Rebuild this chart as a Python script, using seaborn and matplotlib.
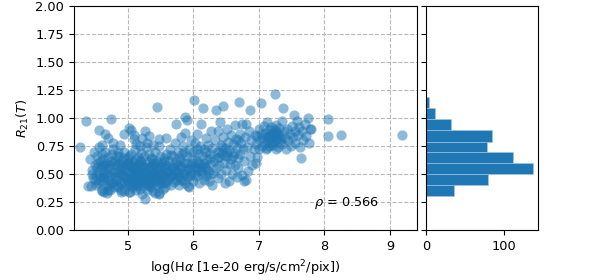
import matplotlib
matplotlib.use("Agg")
import matplotlib.pyplot as plt
import seaborn as sns
import numpy as np
import pandas as pd

# ---- scatter data (log Halpha, R21), by region ----
core_west = [(4.42,0.63),(4.45,0.54),(4.47,0.46),(4.44,0.39),(4.50,0.58),(4.52,0.49),(4.48,0.70),
             (4.55,0.42),(4.58,0.62),(4.53,0.66),(4.60,0.36),(4.62,0.52),(4.57,0.47),(4.65,0.58),
             (4.63,0.44),(4.68,0.40),(4.70,0.65),(4.66,0.70),(4.72,0.55),(4.75,0.48),(4.73,0.36),
             (4.78,0.60),(4.77,0.43),(4.80,0.52),(4.56,0.74),(4.61,0.68),(4.69,0.50),(4.74,0.62),
             (4.79,0.38),(4.64,0.34),(4.51,0.40),(4.59,0.56),(4.67,0.60),(4.71,0.45),(4.76,0.68),
             (4.46,0.50),(4.54,0.60),(4.62,0.47),(4.70,0.36),(4.78,0.72)]
core_mid = [(4.82,0.45),(4.84,0.58),(4.85,0.38),(4.86,0.66),(4.88,0.50),(4.90,0.42),(4.91,0.62),
            (4.92,0.55),(4.94,0.35),(4.95,0.70),(4.96,0.47),(4.97,0.59),(4.99,0.40),(5.00,0.52),
            (5.01,0.64),(5.02,0.44),(5.03,0.34),(5.04,0.57),(5.05,0.68),(5.06,0.49),(5.07,0.38),
            (5.08,0.61),(5.09,0.53),(5.10,0.43),(5.11,0.72),(5.12,0.36),(5.13,0.56),(5.14,0.47),
            (5.15,0.65),(5.16,0.40),(5.17,0.59),(5.18,0.51),(5.19,0.44),(5.20,0.69),(4.83,0.52),
            (4.87,0.60),(4.89,0.36),(4.93,0.48),(4.98,0.56),(5.02,0.60),(5.05,0.46),(5.09,0.41),
            (5.12,0.63),(5.16,0.53),(5.19,0.37),(4.85,0.70),(4.95,0.64),(5.07,0.55),(5.14,0.39),
            (5.18,0.62)]
core_east = [(5.21,0.48),(5.22,0.32),(5.23,0.58),(5.24,0.40),(5.25,0.66),(5.26,0.28),(5.26,0.52),
             (5.27,0.44),(5.28,0.74),(5.29,0.36),(5.30,0.61),(5.31,0.50),(5.32,0.42),(5.33,0.68),
             (5.34,0.55),(5.35,0.38),(5.36,0.47),(5.37,0.63),(5.38,0.53),(5.39,0.35),(5.40,0.58),
             (5.41,0.45),(5.42,0.70),(5.43,0.50),(5.44,0.40),(5.45,0.62),(5.46,0.54),(5.47,0.33),
             (5.48,0.46),(5.49,0.66),(5.50,0.57),(5.51,0.41),(5.52,0.51),(5.53,0.60),(5.54,0.37),
             (5.55,0.64),(5.56,0.48),(5.57,0.55),(5.58,0.43),(5.59,0.68),(5.60,0.52),(5.24,0.56),
             (5.30,0.46),(5.36,0.57),(5.42,0.60),(5.47,0.42),(5.53,0.47),(5.57,0.38),(5.33,0.39),
             (5.39,0.48)]
core_fill = [(4.50,0.45),(4.55,0.52),(4.58,0.44),(4.60,0.58),(4.63,0.63),(4.66,0.50),(4.68,0.55),
             (4.71,0.40),(4.73,0.58),(4.75,0.42),(4.77,0.52),(4.80,0.47),(4.81,0.62),(4.83,0.40),
             (4.86,0.54),(4.88,0.44),(4.90,0.58),(4.92,0.50),(4.94,0.43),(4.96,0.55),(4.98,0.47),
             (5.00,0.60),(5.00,0.42),(5.03,0.50),(5.04,0.40),(5.06,0.58),(5.08,0.46),(5.10,0.55),
             (5.11,0.48),(5.13,0.42),(5.15,0.52),(5.17,0.46),(5.19,0.56),(5.21,0.42),(5.23,0.50),
             (5.25,0.45),(5.27,0.56),(5.29,0.48),(5.31,0.40),(5.32,0.55),(5.34,0.47),(5.36,0.42),
             (5.38,0.60),(5.40,0.50),(5.43,0.44),(5.45,0.55),(5.47,0.50),(5.50,0.45),(5.52,0.56),
             (5.55,0.42),(5.58,0.58),(5.60,0.46),(5.62,0.52),(5.65,0.48),(5.68,0.56),(5.70,0.50),
             (5.73,0.45),(5.76,0.58),(5.78,0.48),(5.82,0.55),(5.84,0.45),(5.88,0.50),(5.90,0.60),
             (5.95,0.48),(5.97,0.55),(6.02,0.50),(6.05,0.55),(6.08,0.60),(6.12,0.53),(6.16,0.60),
             (6.20,0.55),(6.25,0.50),(4.53,0.56),(4.64,0.47),(4.84,0.66),(5.02,0.66),(5.21,0.62),
             (5.35,0.64),(5.56,0.62)]
core_edges = [(4.27,0.74),(4.36,0.97),(4.74,0.99),(4.56,0.89),(4.66,0.86),(4.70,0.82),(4.78,0.78),
              (4.94,0.86),(5.02,0.91),(5.05,0.89),(5.09,0.85),(5.10,0.81),(5.13,0.77),(5.26,0.88),
              (5.22,0.82),(5.32,0.84),(5.30,0.78),(5.45,1.10),(5.47,0.81),(5.59,0.82),(5.48,0.75),
              (5.38,0.76),(4.60,0.76),(4.88,0.76),(5.18,0.75),(4.40,0.39),(4.60,0.35),(4.68,0.33),
              (4.90,0.34),(5.02,0.34),(5.41,0.33),(5.48,0.32)]
middle = [(5.62,0.45),(5.63,0.62),(5.64,0.54),(5.65,0.72),(5.66,0.40),(5.67,0.58),(5.68,0.49),
          (5.69,0.66),(5.70,0.43),(5.71,0.55),(5.72,0.78),(5.73,0.95),(5.74,0.61),(5.75,0.47),
          (5.76,0.70),(5.77,0.52),(5.78,0.40),(5.79,0.64),(5.80,0.57),(5.81,0.83),(5.82,0.45),
          (5.83,0.68),(5.84,0.51),(5.85,0.75),(5.86,0.60),(5.87,0.42),(5.88,1.01),(5.88,0.87),
          (5.89,0.54),(5.90,0.98),(5.90,0.66),(5.91,0.47),(5.92,0.39),(5.93,0.72),(5.94,0.38),
          (5.95,0.58),(5.96,0.80),(5.97,0.50),(5.98,0.64),(5.99,0.44),(6.00,0.70),(6.01,1.16),
          (6.02,0.56),(6.03,0.78),(6.04,0.48),(6.05,0.62),(6.06,0.86),(6.07,0.53),(6.08,0.68),
          (6.09,0.42),(6.10,0.75),(6.11,0.59),(6.12,0.95),(6.13,0.50),(6.14,0.66),(6.15,1.09),
          (6.16,0.45),(6.17,0.72),(6.18,0.57),(6.19,0.82),(6.20,0.48),(6.21,0.63),(6.22,0.76),
          (6.23,0.53),(6.24,0.44),(6.25,0.68),(6.26,0.59),(6.27,0.88),(6.28,0.40),(6.29,0.73),
          (6.30,0.51),(5.66,0.67),(5.74,0.52),(5.80,0.62),(5.86,0.70),(5.92,0.55),(6.00,0.60),
          (6.06,0.72),(6.14,0.56),(6.20,0.70),(6.26,0.64)]
upper_mid = [(6.31,0.62),(6.33,0.80),(6.34,1.07),(6.35,0.55),(6.36,0.70),(6.37,0.46),(6.38,0.88),
             (6.39,0.65),(6.40,0.58),(6.41,0.96),(6.42,0.76),(6.43,0.50),(6.44,0.68),(6.45,0.83),
             (6.46,1.11),(6.47,0.60),(6.48,0.42),(6.49,0.73),(6.50,0.54),(6.51,0.90),(6.52,0.66),
             (6.53,0.79),(6.54,0.44),(6.55,0.71),(6.56,0.59),(6.57,0.85),(6.58,0.63),(6.59,0.50),
             (6.60,0.77),(6.62,0.69),(6.63,0.94),(6.64,0.58),(6.65,0.81),(6.66,0.47),(6.67,0.73),
             (6.68,0.64),(6.69,0.55),(6.70,1.14),(6.71,0.86),(6.72,0.68),(6.73,0.78),(6.74,0.95),
             (6.74,0.49),(6.76,0.72),(6.77,0.44),(6.78,0.62),(6.79,0.83),(6.80,0.95),(6.81,0.45),
             (6.82,0.74),(6.84,0.53),(6.85,0.88),(6.86,1.07),(6.87,0.66),(6.88,0.80),(6.90,0.58),
             (6.92,0.72),(6.94,0.85),(6.36,0.64),(6.44,0.74),(6.52,0.70),(6.60,0.66),(6.68,0.80),
             (6.40,0.70),(6.48,0.66),(6.97,0.65),(6.95,0.60)]
bright = [(6.96,0.77),(6.98,0.84),(7.00,0.72),(7.01,0.90),(7.02,0.80),(7.04,1.13),(7.04,0.86),
          (7.05,0.75),(7.07,0.82),(7.08,0.93),(7.09,0.78),(7.10,0.87),(7.11,0.72),(7.12,0.84),
          (7.13,0.96),(7.14,0.80),(7.15,0.89),(7.16,0.75),(7.17,0.85),(7.18,0.92),(7.19,0.79),
          (7.20,0.87),(7.21,0.83),(7.22,0.76),(7.23,0.90),(7.24,0.85),(7.25,1.21),(7.25,0.80),
          (7.26,0.88),(7.27,0.94),(7.28,0.82),(7.29,0.74),(7.30,0.86),(7.31,0.91),(7.32,0.79),
          (7.33,0.84),(7.35,0.97),(7.36,0.77),(7.37,1.09),(7.38,0.88),(7.40,0.82),(7.41,0.72),
          (7.43,0.90),(7.45,0.80),(7.47,0.86),(7.49,0.75),(7.50,0.93),(7.52,0.83),(7.54,1.03),
          (7.55,0.88),(7.56,0.78),(7.58,0.97),(7.60,0.85),(7.62,0.92),(7.63,0.74),(7.65,0.64),
          (7.66,0.88),(7.68,0.80),(7.70,0.95),(7.72,0.84),(7.75,1.00),(7.76,0.78),(7.78,0.90),
          (7.80,0.90),(8.06,0.99),(8.05,0.84),(8.25,0.85),(9.19,0.85),(7.20,0.78),(7.28,0.87),
          (7.15,0.83),(7.34,0.81),(7.13,0.73),(7.27,0.72)]

# ---- histogram of R21 (bin edges and counts) ----
hist_edges = [0.30, 0.40, 0.50, 0.60, 0.695, 0.79, 0.89, 0.99, 1.09, 1.19]
hist_counts = [36, 80, 137, 112, 78, 85, 32, 11, 4]

x_ticks = [5, 6, 7, 8, 9]
y_ticks = [0.0, 0.25, 0.5, 0.75, 1.0, 1.25, 1.5, 1.75, 2.0]
rho_text = r"$\rho$ = 0.566"

pts = core_west + core_mid + core_east + core_fill + core_edges + middle + upper_mid + bright
df = pd.DataFrame(pts, columns=["logHa", "R21"])

plt.rcParams["font.family"] = ["DejaVu Sans"]
plt.rcParams["font.size"] = 9.3
C0 = "#1f77b4"

fig = plt.figure(figsize=(5.98, 2.80), dpi=100)
ax = fig.add_axes([74/598, 50/280, (416.7-74)/598, 224/280])
axh = fig.add_axes([426/598, 50/280, (538-426)/598, 224/280], sharey=ax)

sns.scatterplot(data=df, x="logHa", y="R21", ax=ax, color=C0, alpha=0.5,
                s=54, linewidth=0, legend=False)
ax.set_xlim(4.18, 9.41)
ax.set_ylim(0, 2.0)
ax.set_xticks(x_ticks)
ax.set_yticks(y_ticks)
ax.set_yticklabels([f"{v:.2f}" for v in y_ticks])
ax.grid(True, linestyle="--", color="#b8b8b8", linewidth=0.8)
ax.set_axisbelow(True)
ax.set_xlabel(r"log(H$\alpha$ [1e-20 erg/s/cm$^2$/pix])")
ax.set_ylabel(r"$R_{21}(T)$", labelpad=3)
ax.text(0.70, 0.12, rho_text, transform=ax.transAxes, ha="left", va="center")

centers = [(a + b) / 2 for a, b in zip(hist_edges[:-1], hist_edges[1:])]
sns.histplot(y=centers, weights=hist_counts, bins=hist_edges, ax=axh, color=C0,
             alpha=1.0, edgecolor="#a6c8e4", linewidth=0.4)
axh.set_xticks([0, 100])
axh.set_xlabel("")
axh.set_ylabel("")
axh.tick_params(labelleft=False)
axh.set_ylim(0, 2.0)

fig.savefig("out.png", dpi=100)
